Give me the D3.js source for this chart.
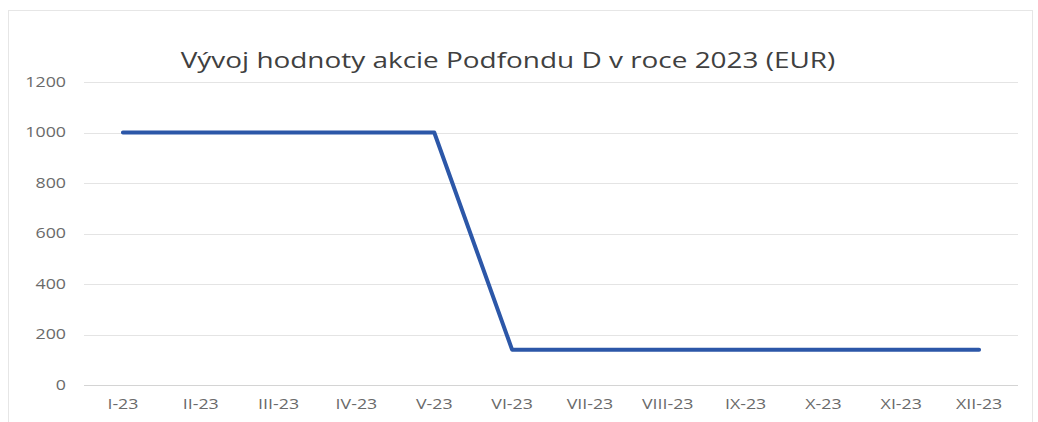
<!DOCTYPE html>
<html>
<head>
<meta charset="utf-8">
<script src="https://cdn.jsdelivr.net/npm/d3@7"></script>
<style>
  body { margin: 0; background: #fff; }
  svg { display: block; font-family: "Open Sans", "Noto Sans", sans-serif; }
</style>
</head>
<body>
<script>
// chart data
var months = ["I-23", "II-23", "III-23", "IV-23", "V-23", "VI-23", "VII-23", "VIII-23", "IX-23", "X-23", "XI-23", "XII-23"];
var values = [1000, 1000, 1000, 1000, 1000, 140, 140, 140, 140, 140, 140, 140];
var yTicks = [0, 200, 400, 600, 800, 1000, 1200];
var title = "Vývoj hodnoty akcie Podfondu D v roce 2023 (EUR)";

var width = 1038, height = 422;
var margin = {top: 82, right: 20, bottom: 37, left: 84};
var stretch = 1.27; // the source picture is stretched horizontally

var svg = d3.select("body").append("svg")
    .attr("width", width)
    .attr("height", height);

// chart frame
svg.append("rect")
    .attr("x", 8.5).attr("y", 10.5)
    .attr("width", 1024).attr("height", 420)
    .attr("fill", "#fff")
    .attr("stroke", "#e6e6e6");

var x = d3.scaleBand()
    .domain(months)
    .range([margin.left, width - margin.right]);

var y = d3.scaleLinear()
    .domain([0, 1200])
    .range([height - margin.bottom, margin.top]);

// gridlines
svg.append("g")
    .selectAll("line")
    .data(yTicks)
    .enter()
    .append("line")
    .attr("x1", margin.left)
    .attr("x2", width - margin.right)
    .attr("y1", function (d) { return Math.round(y(d)) + 0.5; })
    .attr("y2", function (d) { return Math.round(y(d)) + 0.5; })
    .attr("stroke", function (d) { return d === 0 ? "#d4d4d4" : "#e4e4e4"; })
    .attr("stroke-width", 1);

// y axis labels
var yAxis = d3.axisLeft(y).tickValues(yTicks).tickFormat(d3.format("d")).tickSize(0).tickPadding(0);
svg.append("g")
    .attr("transform", "translate(66,0)")
    .call(yAxis)
    .call(function (g) { g.select(".domain").remove(); })
    .selectAll("text")
    .attr("transform", "scale(" + stretch + ",1)")
    .attr("fill", "#6a6a6a")
    .style("font-family", "'Open Sans', sans-serif")
    .style("font-size", "14px");

// x axis labels
var xAxis = d3.axisBottom(x).tickSize(0).tickPadding(14);
svg.append("g")
    .attr("transform", "translate(0," + y(0) + ")")
    .call(xAxis)
    .call(function (g) { g.select(".domain").remove(); })
    .selectAll("text")
    .attr("transform", "scale(" + stretch + ",1)")
    .attr("fill", "#6a6a6a")
    .style("font-family", "'Open Sans', sans-serif")
    .style("font-size", "14px");

// line
var line = d3.line()
    .x(function (d, i) { return x(months[i]) + x.bandwidth() / 2; })
    .y(function (d) { return y(d); });

svg.append("path")
    .datum(values)
    .attr("d", line)
    .attr("fill", "none")
    .attr("stroke", "#2c57a8")
    .attr("stroke-width", 4)
    .attr("stroke-linejoin", "round")
    .attr("stroke-linecap", "round");

// title
svg.append("text")
    .attr("transform", "translate(508,68) scale(" + stretch + ",1)")
    .attr("text-anchor", "middle")
    .attr("fill", "#404040")
    .style("font-size", "22px")
    .text(title);
</script>
</body>
</html>
